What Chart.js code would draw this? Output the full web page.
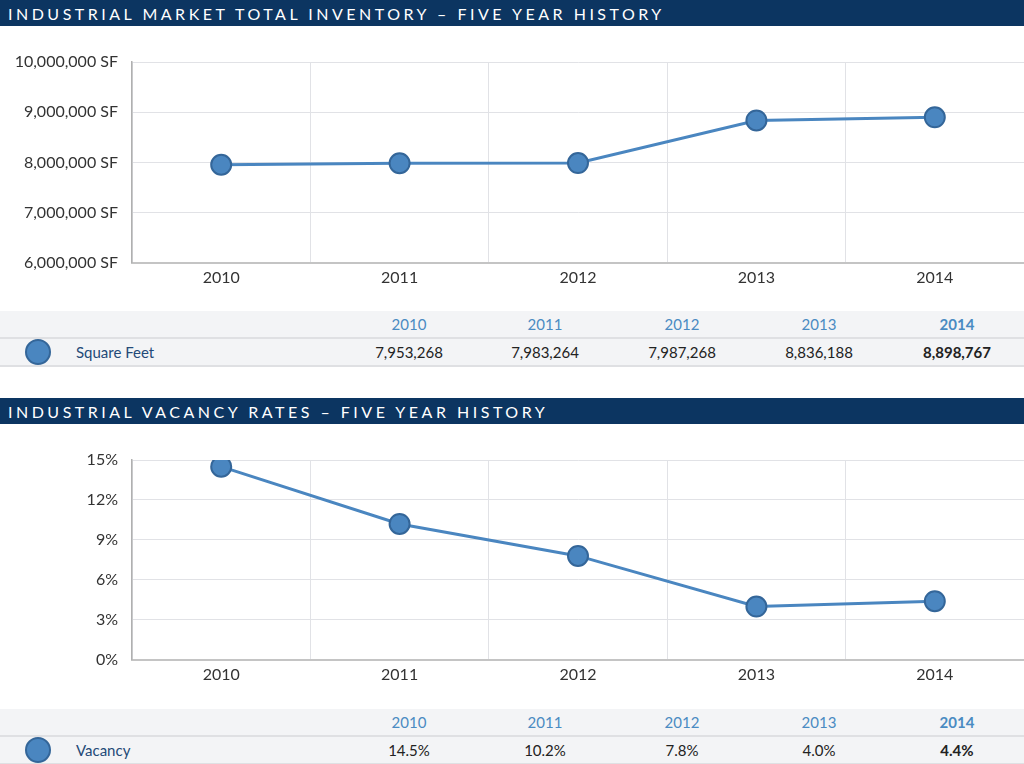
<!DOCTYPE html>
<html lang="en">
<head>
<meta charset="UTF-8">
<title>Industrial Market History</title>
<script src="https://cdn.jsdelivr.net/npm/chart.js@4.4.1/dist/chart.umd.min.js"></script>
<style>
  body { margin: 0; width: 1024px; height: 764px; background: #fff; font-family: Lato, "Open Sans", sans-serif; position: relative; overflow: hidden; }
  .bar { position: absolute; left: 0; width: 1024px; height: 26px; background: #0c3561; color: #fff; font-size: 16px; letter-spacing: 3.5px; line-height: 27px; padding-left: 8px; box-sizing: border-box; white-space: nowrap; }
  /* canvas is a bit wider than the page: the point overflow padding falls off the right edge */
  .box { position: absolute; left: 0; width: 1036px; }
  .tbl { position: absolute; left: 0; width: 1024px; font-size: 15px; }
  .row { position: relative; height: 26px; background: #f3f4f6; border-bottom: 2px solid #dfe0e3; }
  .row span { position: absolute; top: 4px; width: 120px; margin-left: -60px; text-align: center; }
  .yr { color: #4a8bc2; }
  .val { color: #222; }
  .dot { position: absolute; left: 25px; top: 0; width: 26px; height: 26px; border-radius: 50%; background: #4a86c0; border: 2px solid #346699; box-sizing: border-box; }
  .name { position: absolute; left: 76px; top: 4px; color: #244a78; }
</style>
</head>
<body>

<div class="bar" style="top:0">INDUSTRIAL MARKET TOTAL INVENTORY – FIVE YEAR HISTORY</div>
<div class="box" style="top:27px;height:273px"><canvas id="invChart"></canvas></div>
<div class="tbl" id="invTable" style="top:311px"></div>

<div class="bar" style="top:398px">INDUSTRIAL VACANCY RATES – FIVE YEAR HISTORY</div>
<div class="box" style="top:424px;height:276px"><canvas id="vacChart"></canvas></div>
<div class="tbl" id="vacTable" style="top:709px"></div>

<script>
const years = ['2010', '2011', '2012', '2013', '2014'];
const squareFeet = [7953268, 7983264, 7987268, 8836188, 8898767];
const vacancy = [14.5, 10.2, 7.8, 4.0, 4.4];
const sfTicks = [6000000, 7000000, 8000000, 9000000, 10000000];
const vacTicks = [0, 3, 6, 9, 12, 15];

const colX = [409, 545, 682, 819, 957];
const lineBlue = '#4a86c0';

function makeChart(id, data, ticks, fmt, pad) {
    const ctx = document.getElementById(id).getContext('2d');
    return new Chart(ctx, {
        type: 'line',
        data: {
            labels: years,
            datasets: [{
                data: data,
                borderColor: lineBlue,
                borderWidth: 3,
                backgroundColor: lineBlue,
                pointRadius: 10,
                pointBackgroundColor: lineBlue,
                pointBorderColor: '#346699',
                pointBorderWidth: 2,
                tension: 0
            }]
        },
        options: {
            responsive: true,
            maintainAspectRatio: false,
            animation: false,
            layout: { padding: pad },
            plugins: { legend: { display: false }, tooltip: { enabled: false } },
            scales: {
                x: {
                    offset: true,
                    afterFit: s => { s.paddingLeft = 0; s.paddingRight = 0; },
                    grid: { offset: true, color: '#e1e2e6', drawTicks: false },
                    border: { color: '#c4c4c4', width: 2 },
                    ticks: { padding: 5, color: '#333', font: { family: 'Lato', size: 16 } }
                },
                y: {
                    min: ticks[0],
                    max: ticks[ticks.length - 1],
                    afterBuildTicks: s => { s.ticks = ticks.map(v => ({ value: v })); },
                    afterFit: s => { s.width = 132; },
                    grid: { color: '#e1e2e6', drawTicks: false },
                    border: { color: '#b0b0b0', width: 1.5 },
                    ticks: { padding: 14, color: '#333', font: { family: 'Lato', size: 16 }, callback: fmt }
                }
            }
        }
    });
}

makeChart('invChart', squareFeet, sfTicks, v => v.toLocaleString('en-US') + ' SF', { top: 35, right: 0, bottom: 8 });
makeChart('vacChart', vacancy, vacTicks, v => v + '%', { top: 36, right: 0, bottom: 11 });

function makeTable(id, name, values, fmt) {
    const el = document.getElementById(id);
    let head = '<div class="row">';
    let body = '<div class="row"><div class="dot"></div><div class="name">' + name + '</div>';
    years.forEach((y, i) => {
        const last = i === years.length - 1 ? 'font-weight:bold;' : '';
        head += '<span class="yr" style="left:' + colX[i] + 'px;' + last + '">' + y + '</span>';
        body += '<span class="val" style="left:' + colX[i] + 'px;' + last + '">' + fmt(values[i]) + '</span>';
    });
    el.innerHTML = head + '</div>' + body + '</div>';
}

makeTable('invTable', 'Square Feet', squareFeet, v => v.toLocaleString('en-US'));
makeTable('vacTable', 'Vacancy', vacancy, v => v.toFixed(1) + '%');
</script>
</body>
</html>
